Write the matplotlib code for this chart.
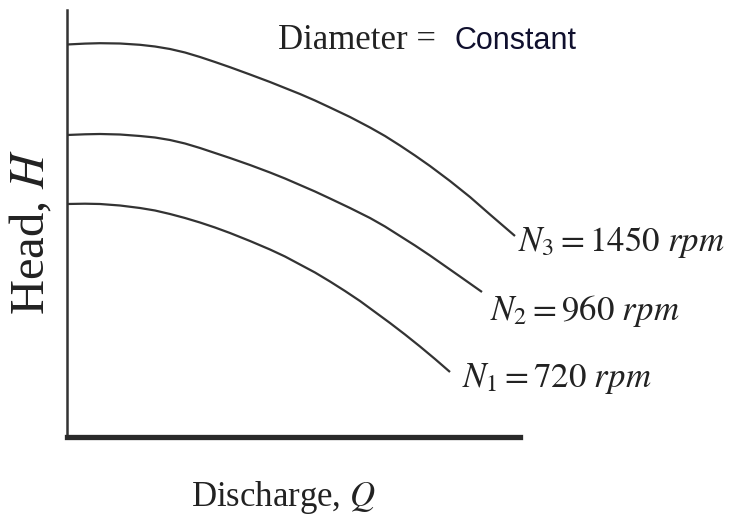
import matplotlib
matplotlib.use("Agg")
import matplotlib.pyplot as plt

plt.rcParams['font.family'] = ['Liberation Serif', 'DejaVu Serif']
plt.rcParams['mathtext.fontset'] = 'stix'

# discharge Q and head H (arbitrary units, no scale on the chart)
q_n3 = [0, 18, 33, 53, 73, 88, 103, 118, 133, 148, 163, 183, 203, 218, 233, 248,
        263, 283, 303, 318, 333, 348, 363, 383, 403, 423, 448]
h_n3 = [392.5, 393.4, 393.8, 393.5, 392.2, 390.5, 388, 384.5, 380, 375, 369.8,
        362.5, 355, 349, 343, 336.5, 329.5, 320, 309.5, 301, 291.5, 281.5, 271,
        256, 240, 222.5, 201]

q_n2 = [0, 18, 33, 53, 73, 88, 103, 118, 133, 148, 163, 183, 203, 218, 233, 248,
        263, 283, 303, 318, 333, 348, 363, 378, 393, 415]
h_n2 = [302, 302.7, 303, 302.5, 301, 299.5, 297, 293.5, 289, 284, 279, 272,
        264.5, 258.5, 252, 245.5, 238.5, 229, 219, 210.5, 201, 191.5, 181.5, 171,
        160.5, 145]

q_n1 = [0, 18, 33, 53, 73, 88, 103, 118, 133, 148, 163, 183, 203, 218, 233, 248,
        263, 278, 293, 308, 323, 338, 353, 368, 383]
h_n1 = [233, 233.3, 233, 231.5, 229, 226.5, 223, 219, 214.5, 209.5, 204, 196,
        187.5, 180.5, 172.5, 164.5, 155.5, 146, 136, 125, 114, 102.5, 90.5, 78, 65]

speed_labels = [r'$N_3 = 1450\ rpm$', r'$N_2 = 960\ rpm$', r'$N_1 = 720\ rpm$']

line_col = '#333333'
text_col = '#222222'

fig = plt.figure(figsize=(7.33, 5.28), dpi=100)
ax = fig.add_axes([67/733, 1-437/528, (520-67)/733, (437-10)/528])

label_pos = [(451, 194), (423, 126), (395, 59)]
for (q, h), label, (lx, ly) in zip([(q_n3, h_n3), (q_n2, h_n2), (q_n1, h_n1)],
                                   speed_labels, label_pos):
    ax.plot(q, h, color=line_col, lw=1.6, solid_capstyle='butt',
            solid_joinstyle='round')
    ax.text(lx, ly, label, fontsize=25, color=text_col, ha='left', va='center')

ax.set_xlim(0, 453)
ax.set_ylim(0, 427)
ax.set_xticks([])
ax.set_yticks([])
for side in ['top', 'right']:
    ax.spines[side].set_visible(False)
ax.spines['left'].set_linewidth(1.8)
ax.spines['left'].set_color('#333333')
ax.spines['bottom'].set_linewidth(3.8)
ax.spines['bottom'].set_color('#2a2a2a')

ax.text(211, 388, 'Diameter =', fontsize=25, color=text_col,
        ha='left', va='baseline')
ax.text(388, 388, 'Constant', fontsize=22, color='#10102e',
        family=['Liberation Sans Narrow', 'Liberation Sans', 'DejaVu Sans'],
        ha='left', va='baseline')

fig.text(31/733, 1-232/528, r'Head, $H$', fontsize=35, color=text_col,
         rotation=90, ha='center', va='center')
fig.text(283/733, 1-497/528, r'Discharge, $Q$', fontsize=25, color=text_col,
         ha='center', va='center')

fig.savefig('out.png', dpi=100)
